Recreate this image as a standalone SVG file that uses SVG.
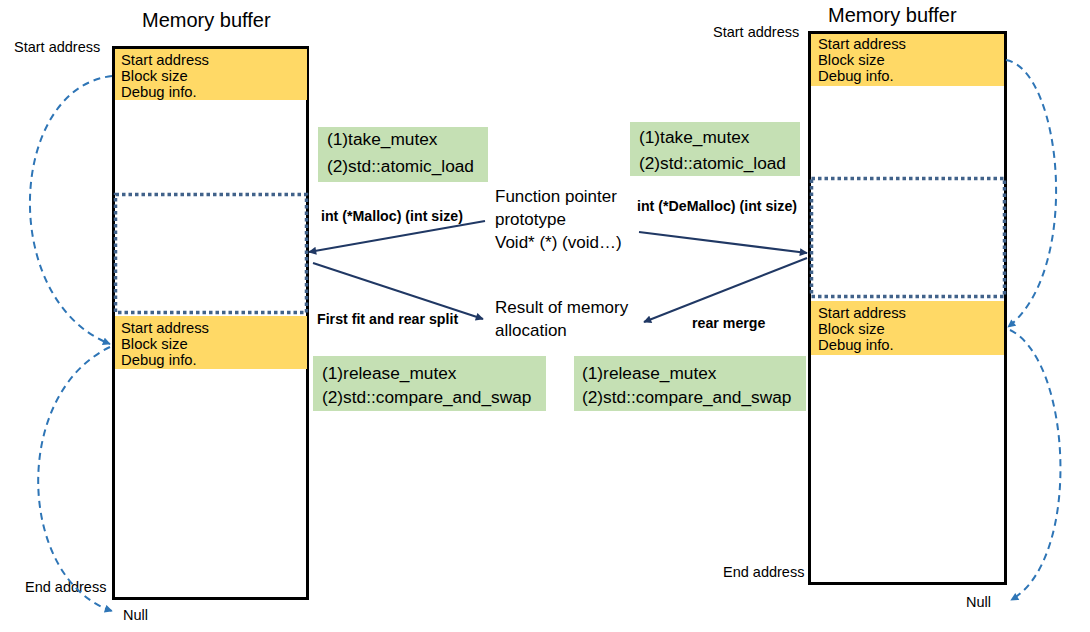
<svg xmlns="http://www.w3.org/2000/svg" width="1090" height="632" viewBox="0 0 1090 632">
<style>
text{font-family:"Liberation Sans",Arial,sans-serif;fill:#000}
.title{font-size:20px}
.lbl{font-size:14.5px}
.hdr{font-size:14.8px}
.grn{font-size:17.3px}
.ctr{font-size:17px}
.bold{font-size:14.2px;font-weight:bold}
.buf{fill:#fff;stroke:#000;stroke-width:3}
.yel{fill:#FFD966}
.dot{fill:none;stroke:#41628A;stroke-width:3.5;stroke-dasharray:3.5 3}
.gbox{fill:#C5E0B4}
.nav{stroke:#203864;stroke-width:2;fill:none}
.dash{stroke:#2E75B6;stroke-width:2;fill:none;stroke-dasharray:7 5}
</style>
<defs>
<marker id="an" viewBox="0 0 10 10" refX="9" refY="5" markerWidth="10" markerHeight="8" markerUnits="userSpaceOnUse" orient="auto"><path d="M0,0 L10,5 L0,10 z" fill="#203864"/></marker>
<marker id="ab" viewBox="0 0 10 10" refX="9" refY="5" markerWidth="9" markerHeight="8" markerUnits="userSpaceOnUse" orient="auto"><path d="M0,0 L10,5 L0,10 z" fill="#2E75B6"/></marker>
</defs>
<rect width="1090" height="632" fill="#fff"/>

<g id="left-buffer">
<text class="title" x="142" y="27">Memory buffer</text>
<text class="lbl" x="14" y="52">Start address</text>
<text class="lbl" x="25" y="592">End address</text>
<text class="lbl" x="123" y="620">Null</text>
<rect class="buf" x="113.5" y="47.5" width="194" height="551"/>
<rect class="dot" x="115.5" y="194.5" width="191" height="118"/>
<g id="left-header-1">
<rect class="yel" x="115" y="49" width="192" height="51"/>
<text class="hdr" x="121" y="65">Start address</text>
<text class="hdr" x="121" y="81">Block size</text>
<text class="hdr" x="121" y="97">Debug info.</text>
</g>
<g id="left-header-2">
<rect class="yel" x="115" y="316" width="192" height="53"/>
<text class="hdr" x="121" y="333">Start address</text>
<text class="hdr" x="121" y="349">Block size</text>
<text class="hdr" x="121" y="365">Debug info.</text>
</g>
</g>

<g id="right-buffer">
<text class="title" x="828" y="22">Memory buffer</text>
<text class="lbl" x="713" y="37">Start address</text>
<text class="lbl" x="723" y="577">End address</text>
<text class="lbl" x="966" y="607">Null</text>
<rect class="buf" x="809.5" y="32.5" width="196" height="551"/>
<rect class="dot" x="811.5" y="178.5" width="193" height="118"/>
<g id="right-header-1">
<rect class="yel" x="811" y="34" width="193" height="52"/>
<text class="hdr" x="818" y="49">Start address</text>
<text class="hdr" x="818" y="65">Block size</text>
<text class="hdr" x="818" y="81">Debug info.</text>
</g>
<g id="right-header-2">
<rect class="yel" x="811" y="301" width="193" height="54"/>
<text class="hdr" x="818" y="318">Start address</text>
<text class="hdr" x="818" y="334">Block size</text>
<text class="hdr" x="818" y="350">Debug info.</text>
</g>
</g>

<g id="take-left">
<rect class="gbox" x="318" y="127" width="170" height="55"/>
<text class="grn" x="327" y="145">(1)take_mutex</text>
<text class="grn" x="327" y="172">(2)std::atomic_load</text>
</g>
<g id="take-right">
<rect class="gbox" x="630" y="122" width="170" height="54"/>
<text class="grn" x="639" y="143">(1)take_mutex</text>
<text class="grn" x="639" y="169">(2)std::atomic_load</text>
</g>
<g id="release-left">
<rect class="gbox" x="313" y="356" width="233" height="55"/>
<text class="grn" x="322" y="379">(1)release_mutex</text>
<text class="grn" x="322" y="403">(2)std::compare_and_swap</text>
</g>
<g id="release-right">
<rect class="gbox" x="574" y="356" width="232" height="55"/>
<text class="grn" x="582" y="379">(1)release_mutex</text>
<text class="grn" x="582" y="403">(2)std::compare_and_swap</text>
</g>

<g id="function-pointer">
<text class="ctr" x="495" y="202">Function pointer</text>
<text class="ctr" x="495" y="225">prototype</text>
<text class="ctr" x="495" y="248">Void* (*) (void…)</text>
</g>
<g id="result">
<text class="ctr" x="495" y="313">Result of memory</text>
<text class="ctr" x="495" y="336">allocation</text>
</g>

<g id="connectors">
<line class="nav" x1="485" y1="221" x2="309" y2="252" marker-end="url(#an)"/>
<line class="nav" x1="313" y1="263" x2="483" y2="319" marker-end="url(#an)"/>
<line class="nav" x1="639" y1="232" x2="807" y2="253" marker-end="url(#an)"/>
<line class="nav" x1="807" y1="258" x2="644" y2="322" marker-end="url(#an)"/>
<text class="bold" x="321" y="221">int (*Malloc) (int size)</text>
<text class="bold" x="317" y="324">First fit and rear split</text>
<text class="bold" x="637" y="211">int (*DeMalloc) (int size)</text>
<text class="bold" x="692" y="328">rear merge</text>
<path class="dash" d="M112,76 C8,88 -2,300 110,344" marker-end="url(#ab)"/>
<path class="dash" d="M110,347 C10,395 18,580 112,611" marker-end="url(#ab)"/>
<path class="dash" d="M1006,60 C1062,70 1082,270 1008,327" marker-end="url(#ab)"/>
<path class="dash" d="M1010,330 C1072,360 1082,560 1011,600" marker-end="url(#ab)"/>
</g>
</svg>
